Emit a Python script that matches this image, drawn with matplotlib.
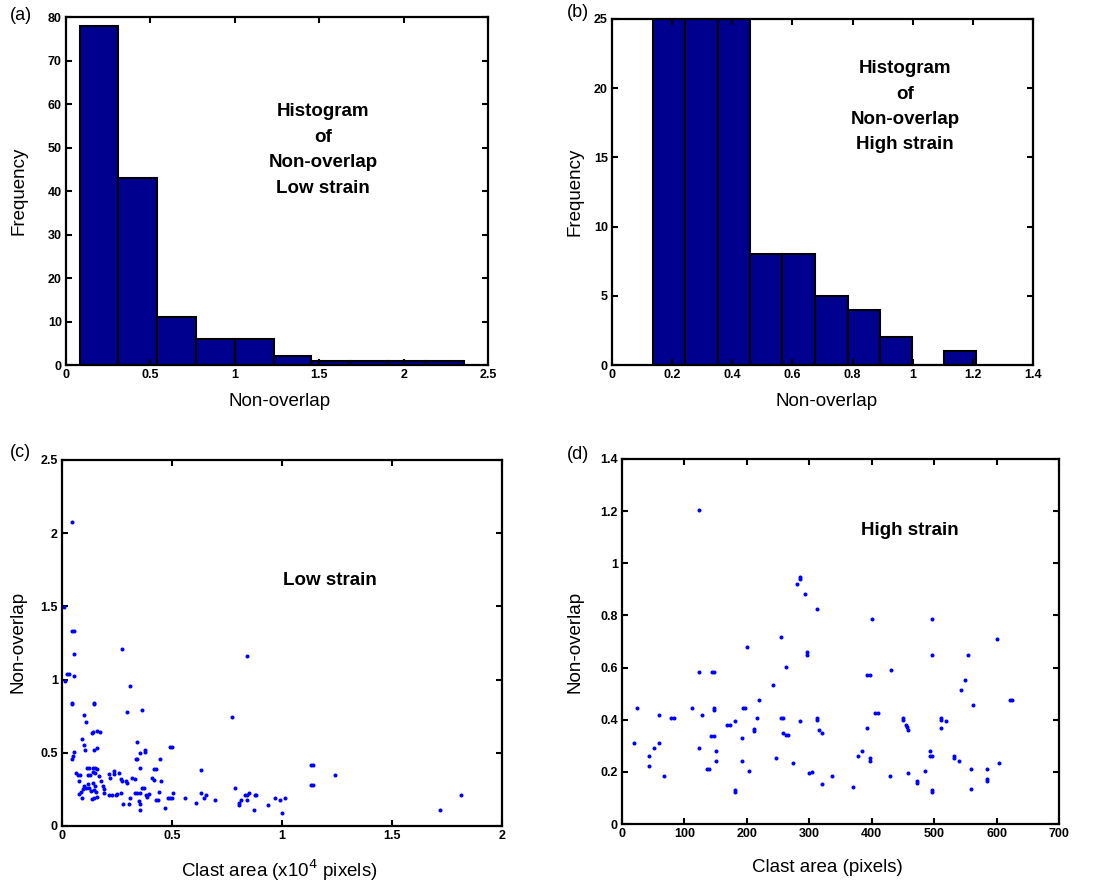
import matplotlib
matplotlib.use("Agg")
import matplotlib.pyplot as plt
from matplotlib.ticker import FormatStrFormatter

plt.rcParams["font.family"] = ["Liberation Sans", "DejaVu Sans"]

# histogram (a): non-overlap, low strain
low_bin_edges = [0.08, 0.31, 0.54, 0.77, 1.00, 1.23, 1.45, 1.68, 1.91, 2.13, 2.36]
low_counts = [78, 43, 11, 6, 6, 2, 1, 1, 1, 1]

# histogram (b): non-overlap, high strain (first three bars run off the top)
high_bin_edges = [0.136, 0.242, 0.353, 0.458, 0.565, 0.676, 0.785, 0.890, 0.996, 1.104, 1.212]
high_counts = [30, 27, 30, 8, 8, 5, 4, 2, 0, 1]

# scatter (c): clast area (x10^4 pixels) vs non-overlap, low strain
low_area = [
    0.044, 0.008, 0.045, 0.056, 0.056, 0.021, 0.033, 0.015, 0.056, 0.044,
    0.044, 0.146, 0.146, 0.101, 0.111, 0.271, 0.307, 0.295, 0.365, 0.136,
    0.142, 0.161, 0.172, 0.090, 0.101, 0.105, 0.146, 0.157, 0.056, 0.051,
    0.044, 0.342, 0.353, 0.377, 0.377, 0.335, 0.342, 0.354, 0.445, 0.417,
    0.425,
    0.071, 0.081, 0.113, 0.124, 0.116, 0.127, 0.139, 0.151, 0.158, 0.142,
    0.151, 0.078, 0.101, 0.093, 0.108, 0.086, 0.078, 0.090, 0.116, 0.124,
    0.131, 0.142, 0.151, 0.146, 0.154, 0.169, 0.176, 0.184, 0.191, 0.136,
    0.146, 0.157, 0.214, 0.217, 0.237, 0.237, 0.259, 0.267, 0.274, 0.289,
    0.297, 0.214, 0.229, 0.244, 0.252, 0.267, 0.277, 0.304, 0.307, 0.332,
    0.342, 0.353, 0.350, 0.353, 0.353, 0.365, 0.372, 0.380, 0.387, 0.395,
    0.410, 0.417, 0.425, 0.437, 0.440, 0.448, 0.467, 0.320, 0.330, 0.190,
    0.065,
    0.839, 0.772, 0.490, 0.500, 0.632, 0.504, 0.480, 0.490, 0.500, 0.557,
    0.611, 0.632, 0.644, 0.654, 0.697, 0.785, 0.806, 0.806, 0.815, 0.832,
    0.839, 0.850, 0.875, 0.882, 0.839, 0.872, 0.936, 0.967, 0.991, 1.013,
    1.000, 1.131, 1.141, 1.131, 1.141, 1.239, 1.718, 1.815,
]
low_nonoverlap = [
    2.073, 1.495, 1.334, 1.334, 1.177, 1.039, 1.039, 0.989, 1.023, 0.841,
    0.830, 0.841, 0.830, 0.761, 0.709, 1.211, 0.955, 0.780, 0.795, 0.632,
    0.643, 0.652, 0.639, 0.591, 0.552, 0.516, 0.516, 0.530, 0.505, 0.477,
    0.459, 0.573, 0.500, 0.516, 0.505, 0.455, 0.455, 0.398, 0.455, 0.386,
    0.386,
    0.348, 0.348, 0.398, 0.398, 0.348, 0.348, 0.398, 0.398, 0.386, 0.370,
    0.364, 0.307, 0.273, 0.255, 0.261, 0.232, 0.216, 0.193, 0.284, 0.261,
    0.239, 0.295, 0.273, 0.243, 0.234, 0.341, 0.307, 0.273, 0.227, 0.186,
    0.193, 0.198, 0.352, 0.330, 0.375, 0.352, 0.364, 0.318, 0.307, 0.307,
    0.295, 0.211, 0.211, 0.211, 0.220, 0.227, 0.148, 0.148, 0.193, 0.227,
    0.227, 0.227, 0.170, 0.152, 0.107, 0.261, 0.261, 0.211, 0.198, 0.216,
    0.325, 0.314, 0.175, 0.175, 0.234, 0.307, 0.120, 0.330, 0.320, 0.250,
    0.360,
    1.161, 0.745, 0.536, 0.536, 0.382, 0.227, 0.193, 0.193, 0.193, 0.193,
    0.159, 0.227, 0.193, 0.211, 0.175, 0.261, 0.155, 0.143, 0.175, 0.211,
    0.211, 0.227, 0.211, 0.211, 0.175, 0.107, 0.141, 0.193, 0.175, 0.193,
    0.086, 0.416, 0.416, 0.280, 0.280, 0.348, 0.107, 0.209,
]

# scatter (d): clast area (pixels) vs non-overlap, high strain
high_area = [
    123.7, 24.0, 19.7, 42.6, 42.6, 50.6, 58.6, 58.6, 66.6, 78.4,
    82.6, 112.0, 123.7, 128.0, 123.7, 144.0, 147.7, 146.6, 146.6, 143.0,
    147.7, 151.0, 151.0, 136.0, 140.0, 169.0, 173.0, 181.0, 181.0, 181.0,
    193.0, 193.0, 193.5, 197.0, 201.0, 204.0, 212.0, 212.0, 216.0, 219.6,
    242.5, 246.8, 254.0, 254.8, 258.5, 258.5, 262.0, 262.8, 266.5, 273.5,
    280.9, 285.0, 285.0, 285.0, 293.0, 295.8, 295.8, 300.0, 304.0, 311.8,
    311.8, 311.8, 315.6, 319.8, 319.8, 335.8, 369.4, 377.4, 384.9, 392.9,
    392.9, 397.0, 397.0, 397.0, 399.8, 405.0, 409.4, 429.0, 430.7, 450.4,
    450.4, 455.0, 456.0, 458.0, 458.0, 473.0, 473.0, 485.0, 493.0, 493.0,
    497.0, 496.8, 496.8, 496.8, 496.8, 511.7, 511.7, 511.7, 519.7, 531.5,
    531.5, 539.5, 542.6, 550.0, 554.4, 558.6, 558.6, 562.4, 585.0, 585.0,
    585.0, 600.7, 604.0, 621.0, 625.0,
]
high_nonoverlap = [
    1.205, 0.446, 0.309, 0.261, 0.222, 0.290, 0.309, 0.417, 0.184, 0.408,
    0.408, 0.446, 0.582, 0.417, 0.290, 0.582, 0.582, 0.446, 0.437, 0.339,
    0.339, 0.281, 0.242, 0.212, 0.212, 0.378, 0.378, 0.396, 0.130, 0.124,
    0.329, 0.242, 0.446, 0.446, 0.679, 0.203, 0.366, 0.358, 0.408, 0.476,
    0.533, 0.252, 0.717, 0.408, 0.408, 0.350, 0.601, 0.341, 0.341, 0.233,
    0.922, 0.946, 0.939, 0.396, 0.884, 0.659, 0.650, 0.194, 0.198, 0.825,
    0.408, 0.399, 0.361, 0.350, 0.153, 0.184, 0.143, 0.261, 0.280, 0.367,
    0.572, 0.572, 0.252, 0.243, 0.785, 0.427, 0.427, 0.184, 0.591, 0.408,
    0.399, 0.378, 0.371, 0.361, 0.194, 0.165, 0.156, 0.203, 0.281, 0.261,
    0.261, 0.785, 0.648, 0.130, 0.124, 0.408, 0.399, 0.367, 0.396, 0.261,
    0.252, 0.242, 0.514, 0.552, 0.648, 0.212, 0.134, 0.457, 0.212, 0.173,
    0.164, 0.708, 0.233, 0.476, 0.476,
]

BAR_COLOR = (0.0, 0.0, 0.5625)
DOT_COLOR = (0.0, 0.0, 1.0)


def style_axes(ax, xticks, yticks):
    ax.set_xticks(xticks)
    ax.set_yticks(yticks)
    ax.xaxis.set_major_formatter(FormatStrFormatter("%g"))
    ax.yaxis.set_major_formatter(FormatStrFormatter("%g"))
    ax.tick_params(direction="in", top=True, right=True, length=4, width=1.5,
                   labelsize=9, pad=3)
    for lab in ax.get_xticklabels() + ax.get_yticklabels():
        lab.set_fontweight("bold")
    for sp in ax.spines.values():
        sp.set_linewidth(1.6)


def draw_hist(ax, edges, counts):
    widths = [edges[i + 1] - edges[i] for i in range(len(counts))]
    ax.bar(edges[:-1], counts, width=widths, align="edge",
           color=BAR_COLOR, edgecolor="black", linewidth=1.5)


fig = plt.figure(figsize=(11.02, 8.83), dpi=100)

ax_a = fig.add_axes([0.0599, 0.5866, 0.383, 0.394])
ax_b = fig.add_axes([0.5554, 0.5866, 0.382, 0.392])
ax_c = fig.add_axes([0.0563, 0.0646, 0.3993, 0.4145])
ax_d = fig.add_axes([0.5644, 0.0668, 0.3966, 0.4134])

# (a)
draw_hist(ax_a, low_bin_edges, low_counts)
ax_a.set_xlim(0, 2.5)
ax_a.set_ylim(0, 80)
style_axes(ax_a, [0, 0.5, 1, 1.5, 2, 2.5], range(0, 81, 10))
ax_a.set_xlabel("Non-overlap", fontsize=13.5)
ax_a.set_ylabel("Frequency", fontsize=13.5)
ax_a.xaxis.set_label_coords(0.507, -0.08)
ax_a.yaxis.set_label_coords(-0.092, 0.5)
ax_a.text(0.609, 0.618, "Histogram\nof\nNon-overlap\nLow strain", transform=ax_a.transAxes,
          ha="center", va="center", fontsize=13.5, fontweight="bold", linespacing=1.65)

# (b)
draw_hist(ax_b, high_bin_edges, high_counts)
ax_b.set_xlim(0, 1.4)
ax_b.set_ylim(0, 25)
style_axes(ax_b, [0, 0.2, 0.4, 0.6, 0.8, 1, 1.2, 1.4], range(0, 26, 5))
ax_b.set_xlabel("Non-overlap", fontsize=13.5)
ax_b.set_ylabel("Frequency", fontsize=13.5)
ax_b.xaxis.set_label_coords(0.51, -0.08)
ax_b.yaxis.set_label_coords(-0.069, 0.5)
ax_b.text(0.696, 0.746, "Histogram\nof\nNon-overlap\nHigh strain", transform=ax_b.transAxes,
          ha="center", va="center", fontsize=13.5, fontweight="bold", linespacing=1.65)

# (c)
ax_c.plot(low_area, low_nonoverlap, ".", color=DOT_COLOR, markersize=3.8)
ax_c.set_xlim(0, 2)
ax_c.set_ylim(0, 2.5)
style_axes(ax_c, [0, 0.5, 1, 1.5, 2], [0, 0.5, 1, 1.5, 2, 2.5])
ax_c.set_xlabel(r"Clast area (x10$^4$ pixels)", fontsize=13.5)
ax_c.set_ylabel("Non-overlap", fontsize=13.5)
ax_c.xaxis.set_label_coords(0.493, -0.086)
ax_c.yaxis.set_label_coords(-0.08, 0.504)
ax_c.text(0.609, 0.672, "Low strain", transform=ax_c.transAxes,
          ha="center", va="center", fontsize=13.5, fontweight="bold")

# (d)
ax_d.plot(high_area, high_nonoverlap, ".", color=DOT_COLOR, markersize=3.8)
ax_d.set_xlim(0, 700)
ax_d.set_ylim(0, 1.4)
style_axes(ax_d, range(0, 701, 100), [0, 0.2, 0.4, 0.6, 0.8, 1, 1.2, 1.4])
ax_d.set_xlabel("Clast area (pixels)", fontsize=13.5)
ax_d.set_ylabel("Non-overlap", fontsize=13.5)
ax_d.xaxis.set_label_coords(0.47, -0.096)
ax_d.yaxis.set_label_coords(-0.089, 0.5)
ax_d.text(0.659, 0.803, "High strain", transform=ax_d.transAxes,
          ha="center", va="center", fontsize=13.5, fontweight="bold")

# panel letters
for x, y, s in [(0.009, 0.983, "(a)"), (0.514, 0.986, "(b)"),
                (0.009, 0.487, "(c)"), (0.514, 0.485, "(d)")]:
    fig.text(x, y, s, ha="left", va="center", fontsize=13)

fig.savefig("out.png", dpi=100)
